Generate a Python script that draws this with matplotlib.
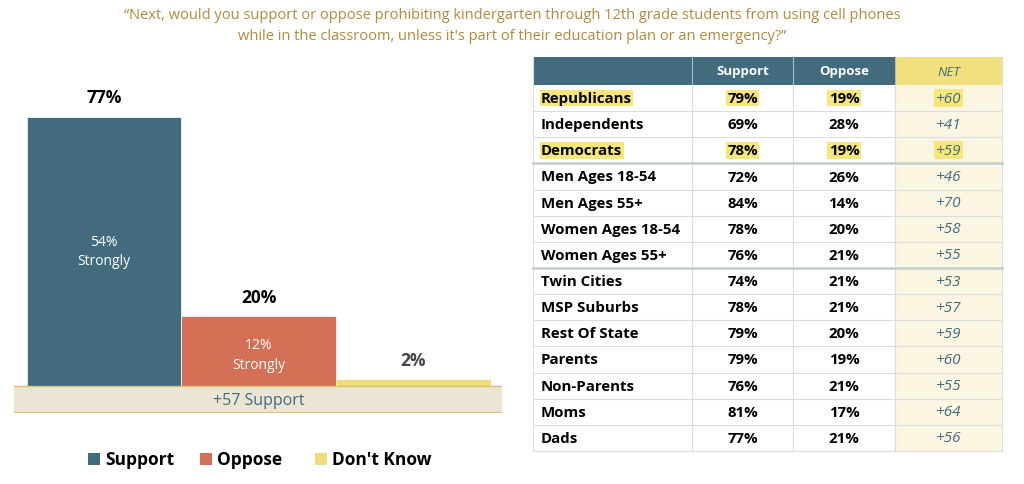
import matplotlib.pyplot as plt
from matplotlib.patches import Rectangle

title = ("\u201cNext, would you support or oppose prohibiting kindergarten through 12th grade students from using cell phones\n"
         "while in the classroom, unless it's part of their education plan or an emergency?\u201d")
cats = ["Support", "Oppose", "Don't Know"]
vals = [77, 20, 2]
strong = ["54%\nStrongly", "12%\nStrongly", None]
colors = ["#426B7E", "#D47055", "#F0DC7A"]
net_label = "+57 Support"

groups = ["Republicans", "Independents", "Democrats", "Men Ages 18-54", "Men Ages 55+",
          "Women Ages 18-54", "Women Ages 55+", "Twin Cities", "MSP Suburbs", "Rest Of State",
          "Parents", "Non-Parents", "Moms", "Dads"]
support = [79, 69, 78, 72, 84, 78, 76, 74, 78, 79, 79, 76, 81, 77]
oppose = [19, 28, 19, 26, 14, 20, 21, 21, 21, 20, 19, 21, 17, 21]
highlight = ["Republicans", "Democrats"]
breaks_after = [2, 6]

W, H = 1024, 485
fig = plt.figure(figsize=(W / 100, H / 100), dpi=100)
plt.rcParams['font.family'] = ['Open Sans', 'DejaVu Sans']

fig.text(0.5, 1 - 26 / H, title, ha='center', va='center', fontsize=10.5, color='#B08A3E', linespacing=1.5)

# bar chart
ax = fig.add_axes([14 / W, 1 - 414 / H, 488 / W, (414 - 85) / H])
ax.set_xlim(-0.582, 2.573)
ax.set_ylim(-7.71, 86.3)
ax.axis('off')
ax.add_patch(Rectangle((-0.582, -7.71), 3.155, 7.71, facecolor='#EDE5D3', edgecolor='none'))
ax.axhline(0, color='#D8C26A', lw=1)
ax.axhline(-7.71, color='#D8C26A', lw=1.5)
ax.bar(range(3), vals, width=1, color=colors, edgecolor='white', linewidth=0.5)
for i, v in enumerate(vals):
    ax.text(i, v + 3, f"{v}%", ha='center', va='bottom', fontsize=12.5, fontweight='bold',
            color='black' if i < 2 else '#444444')
    if strong[i]:
        ax.text(i, v / 2 if i == 0 else v / 2 - 1, strong[i], ha='center', va='center',
                fontsize=10, color='white', linespacing=1.4)
ax.text(1, -3.9, net_label, ha='center', va='center', fontsize=11.5, color='#426B7E')

# legend
lx = [88, 200, 315]
for x, c, lab in zip(lx, colors, cats):
    fig.patches.append(Rectangle((x / W, 1 - 466 / H), 12 / W, 12 / H, facecolor=c,
                                 transform=fig.transFigure, figure=fig))
    fig.text((x + 17) / W, 1 - 460 / H, lab, va='center', fontsize=12.5, fontweight='bold')

# table
tx = fig.add_axes([0, 0, 1, 1])
tx.set_xlim(0, W)
tx.set_ylim(H, 0)
tx.axis('off')
cols = [533, 692, 793, 895, 1002]
top, hh = 58, 28
rh = (452 - 86) / len(groups)
tx.add_patch(Rectangle((cols[0], top), cols[3] - cols[0], hh, facecolor='#426B7E', edgecolor='none'))
tx.add_patch(Rectangle((cols[3], top), cols[4] - cols[3], hh, facecolor='#F2E07F', edgecolor='none'))
tx.add_patch(Rectangle((cols[3], top + hh), cols[4] - cols[3], rh * len(groups),
                       facecolor='#FBF6E2', edgecolor='none'))
hy = top + hh / 2
tx.text((cols[1] + cols[2]) / 2, hy, "Support", ha='center', va='center', color='white', fontsize=9.5, fontweight='bold')
tx.text((cols[2] + cols[3]) / 2, hy, "Oppose", ha='center', va='center', color='white', fontsize=9.5, fontweight='bold')
tx.text((cols[3] + cols[4]) / 2, hy, "NET", ha='center', va='center', color='#426B7E', fontsize=9.5, style='italic')
for c in cols[1:4]:
    tx.plot([c, c], [top, top + hh], color='#A9BCC5', lw=0.8)
    tx.plot([c, c], [top + hh, top + hh + rh * len(groups)], color='#DDDDDD', lw=0.8)
tx.plot([cols[0], cols[0]], [top, top + hh + rh * len(groups)], color='#DDDDDD', lw=0.8)
tx.plot([cols[4], cols[4]], [top, top + hh + rh * len(groups)], color='#DDDDDD', lw=0.8)

for i, g in enumerate(groups):
    y0 = top + hh + i * rh
    yc = y0 + rh / 2
    hl = dict(facecolor='#F7E77A', edgecolor='none', pad=1) if g in highlight else None
    tx.text(cols[0] + 8, yc, g, ha='left', va='center', fontsize=10.8, fontweight='bold', bbox=hl)
    tx.text((cols[1] + cols[2]) / 2, yc, f"{support[i]}%", ha='center', va='center', fontsize=10.8, fontweight='bold', bbox=hl)
    tx.text((cols[2] + cols[3]) / 2, yc, f"{oppose[i]}%", ha='center', va='center', fontsize=10.8, fontweight='bold', bbox=hl)
    tx.text((cols[3] + cols[4]) / 2, yc, f"+{support[i] - oppose[i]}", ha='center', va='center',
            fontsize=11, style='italic', color='#426B7E', bbox=hl)
    lw = 2 if i in breaks_after else 0.8
    col = '#C8D0D4' if i in breaks_after else '#DDDDDD'
    tx.plot([cols[0], cols[4]], [y0 + rh, y0 + rh], color=col, lw=lw)

fig.savefig("out.png", dpi=100)
